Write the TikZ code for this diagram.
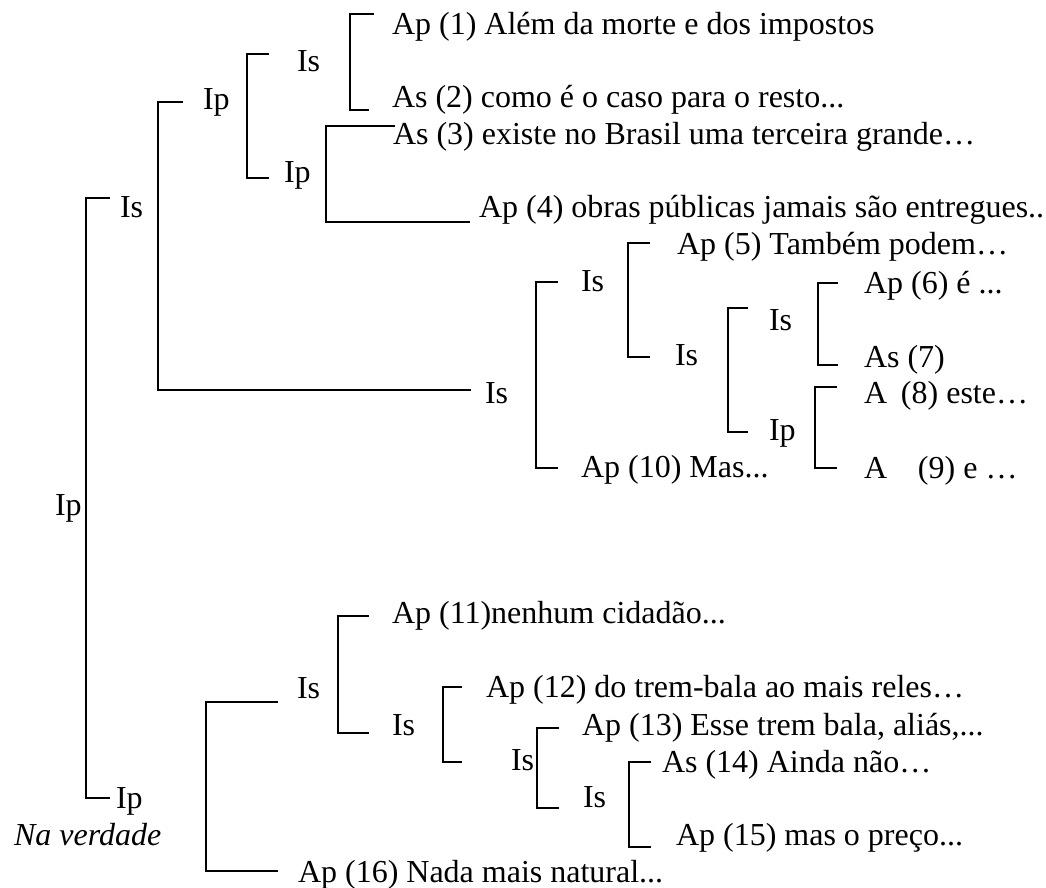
\documentclass[tikz,border=0pt]{standalone}
\usepackage{fontspec}
\setmainfont{Liberation Serif}

\begin{document}
\begin{tikzpicture}[x=0.5pt,y=-0.5pt,line width=1pt,
  font=\fontsize{16}{19}\selectfont,
  lbl/.style={anchor=base west,inner sep=0pt}]
\useasboundingbox (0,0) rectangle (1046,888);
% raiz e primeiro nível
\node[lbl] (ip0) at (54,515) {Ip};
\node[lbl] (is1) at (119,218) {Is};
\node[lbl] (ip1) at (115,808) {Ip};
\node[lbl] (nv) at (13,845) {\itshape Na verdade};
\draw (110,198) -- (86,198) -- (86,798) -- (110,798);
% ramo superior: Ip / Is
\node[lbl] (ip2) at (202,110) {Ip};
\node[lbl] (is2) at (484,403) {Is};
\draw (183,102) -- (158,102) -- (158,390) -- (471,390);
% Is / Ip sob o Ip de cima
\node[lbl] (is3) at (296,72) {Is};
\node[lbl] (ip3) at (283,183) {Ip};
\draw (269,54) -- (247,54) -- (247,178) -- (269,178);
% (1) e (2)
\node[lbl] (a1) at (391,35) {Ap (1) Além da morte e dos impostos};
\node[lbl] (a2) at (391,108) {As (2) como é o caso para o resto...};
\draw (374,14) -- (350,14) -- (350,110) -- (369,110);
% (3) e (4)
\node[lbl] (a3) at (392,145) {As (3) existe no Brasil uma terceira grande…};
\node[lbl] (a4) at (478,218) {Ap (4) obras públicas jamais são entregues..};
\draw (395,126) -- (326,126) -- (326,222) -- (470,222);
% bloco do meio: Is / Ap (10)
\node[lbl] (is4) at (580,292) {Is};
\node[lbl] (a10) at (580,477) {Ap (10) Mas...};
\draw (558,282) -- (536,282) -- (536,468) -- (558,468);
% (5) e Is
\node[lbl] (a5) at (676,255) {Ap (5) Também podem…};
\node[lbl] (is5) at (674,365) {Is};
\draw (650,243) -- (628,243) -- (628,357) -- (650,357);
% Is / Ip
\node[lbl] (is6) at (768,330) {Is};
\node[lbl] (ip6) at (768,440) {Ip};
\draw (748,308) -- (728,308) -- (728,432) -- (748,432);
% (6) e (7)
\node[lbl] (a6) at (863,293) {Ap (6) é ...};
\node[lbl] (a7) at (863,367) {As (7)};
\draw (838,283) -- (818,283) -- (818,365) -- (838,365);
% (8) e (9)
\node[lbl] (a8) at (863,403) {\makebox[18.5pt][l]{A}(8) este…};
\node[lbl] (a9) at (863,478) {\makebox[27pt][l]{A}(9) e …};
\draw (837,387) -- (815,387) -- (815,468) -- (837,468);
% ramo inferior: Is / Ap (16)
\node[lbl] (is7) at (296,698) {Is};
\node[lbl] (a16) at (297,882) {Ap (16) Nada mais natural...};
\draw (278,702) -- (206,702) -- (206,871) -- (278,871);
% (11) e Is
\node[lbl] (a11) at (391,623) {Ap (11)nenhum cidadão...};
\node[lbl] (is8) at (391,735) {Is};
\draw (369,616) -- (338,616) -- (338,733) -- (369,733);
% (12) e Is
\node[lbl] (a12) at (485,697) {Ap (12) do trem-bala ao mais reles…};
\node[lbl] (is9) at (510,770) {Is};
\draw (462,687) -- (443,687) -- (443,762) -- (462,762);
% (13) e Is
\node[lbl] (a13) at (581,735) {Ap (13) Esse trem bala, aliás,...};
\node[lbl] (is10) at (582,807) {Is};
\draw (559,728) -- (537,728) -- (537,808) -- (559,808);
% (14) e (15)
\node[lbl] (a14) at (661,772) {As (14) Ainda não…};
\node[lbl] (a15) at (675,845) {Ap (15) mas o preço...};
\draw (651,762) -- (629,762) -- (629,847) -- (651,847);
\end{tikzpicture}
\end{document}
